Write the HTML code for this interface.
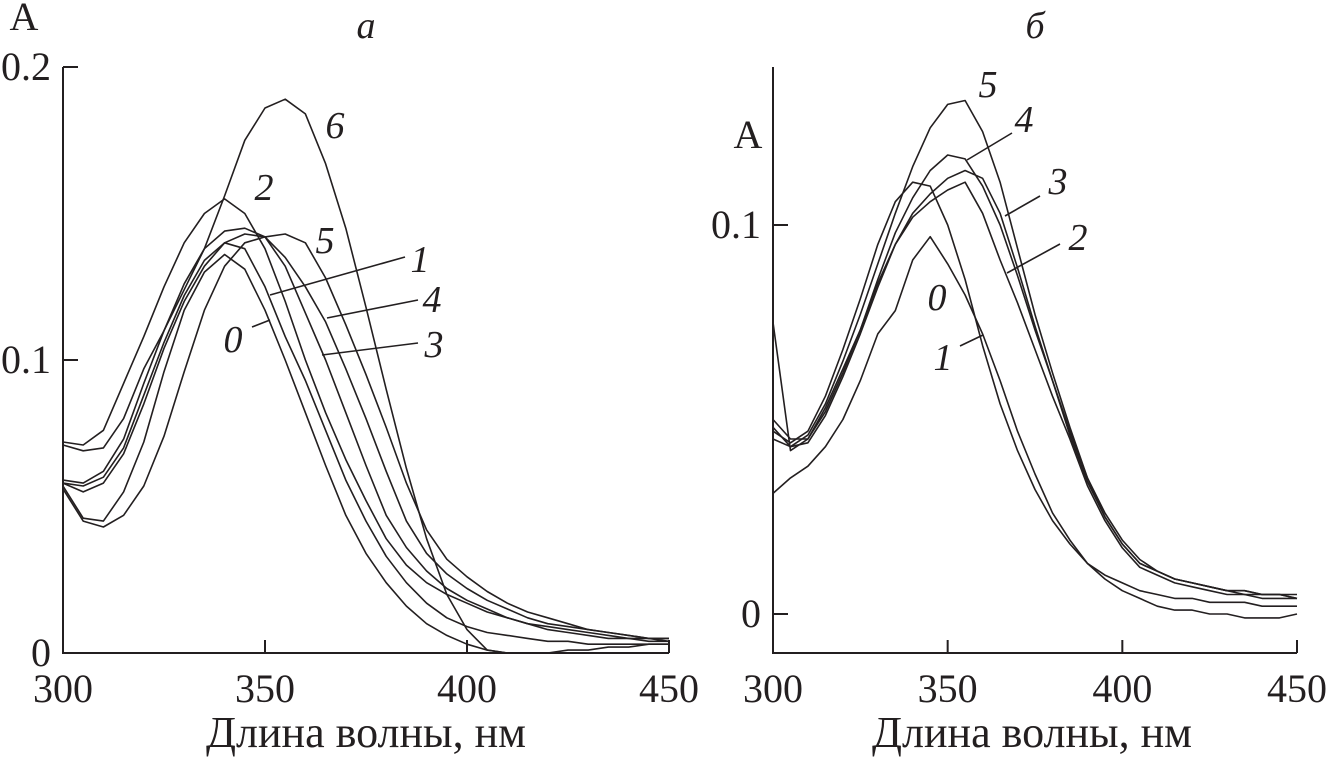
<!DOCTYPE html>
<html><head><meta charset="utf-8"><style>
html,body{margin:0;padding:0;background:#fff;}
svg{display:block;font-family:"Liberation Serif",serif;}
.t{font-size:40px;fill:#231f20;}
.x{font-size:44px;fill:#231f20;}
.i{font-size:38px;font-style:italic;fill:#231f20;}
</style></head><body>
<svg id="c" width="1327" height="757" viewBox="0 0 1327 757"></svg>
<script>
const wavelengths=[300,305,310,315,320,325,330,335,340,345,350,355,360,365,370,375,380,385,390,395,400,405,410,415,420,425,430,435,440,445,450];
const a0=[0.057,0.046,0.045,0.055,0.072,0.096,0.117,0.130,0.136,0.131,0.117,0.100,0.082,0.064,0.047,0.034,0.024,0.016,0.010,0.006,0.003,0.001,0.0,0.0,0.0,0.001,0.001,0.002,0.002,0.003,0.003];
const a1=[0.058,0.057,0.060,0.070,0.088,0.106,0.122,0.134,0.140,0.138,0.125,0.108,0.093,0.076,0.059,0.045,0.033,0.024,0.017,0.012,0.009,0.007,0.006,0.005,0.004,0.004,0.003,0.003,0.003,0.003,0.003];
const a2=[0.072,0.071,0.076,0.092,0.108,0.125,0.140,0.150,0.155,0.150,0.138,0.120,0.100,0.082,0.066,0.052,0.039,0.030,0.024,0.020,0.017,0.014,0.012,0.010,0.008,0.007,0.006,0.005,0.005,0.004,0.004];
const a3=[0.058,0.055,0.058,0.068,0.085,0.104,0.120,0.132,0.140,0.143,0.142,0.132,0.116,0.100,0.082,0.064,0.047,0.036,0.028,0.022,0.018,0.015,0.012,0.010,0.009,0.008,0.007,0.006,0.005,0.005,0.004];
const a4=[0.059,0.058,0.062,0.073,0.092,0.110,0.126,0.138,0.144,0.145,0.142,0.135,0.125,0.113,0.097,0.080,0.062,0.045,0.034,0.027,0.022,0.018,0.015,0.012,0.010,0.009,0.008,0.007,0.006,0.005,0.005];
const a5=[0.056,0.045,0.043,0.047,0.057,0.074,0.096,0.117,0.132,0.140,0.142,0.143,0.140,0.128,0.112,0.095,0.077,0.058,0.042,0.032,0.026,0.021,0.017,0.014,0.012,0.010,0.008,0.007,0.006,0.005,0.005];
const a6=[0.071,0.069,0.070,0.080,0.097,0.110,0.124,0.138,0.156,0.175,0.186,0.189,0.184,0.167,0.145,0.118,0.090,0.063,0.039,0.020,0.008,0.001,0,0,0,0,0,0,0,0,0];
const b0=[0.047,0.044,0.047,0.056,0.068,0.081,0.095,0.106,0.111,0.110,0.100,0.086,0.069,0.054,0.042,0.032,0.024,0.018,0.013,0.010,0.008,0.006,0.005,0.004,0.004,0.003,0.003,0.003,0.002,0.002,0.002];
const b1=[0.031,0.035,0.038,0.043,0.050,0.060,0.072,0.078,0.091,0.097,0.090,0.082,0.072,0.060,0.047,0.036,0.026,0.019,0.013,0.009,0.006,0.004,0.002,0.001,0.001,0.0,0.0,-0.001,-0.001,-0.001,0.0];
const b2=[0.075,0.042,0.045,0.053,0.063,0.073,0.085,0.095,0.102,0.106,0.109,0.111,0.103,0.091,0.080,0.068,0.056,0.045,0.033,0.024,0.017,0.012,0.010,0.008,0.007,0.006,0.005,0.005,0.004,0.004,0.004];
const b3=[0.048,0.043,0.044,0.051,0.061,0.072,0.084,0.095,0.103,0.108,0.112,0.114,0.112,0.103,0.089,0.074,0.060,0.046,0.034,0.025,0.018,0.013,0.011,0.009,0.008,0.007,0.006,0.005,0.005,0.005,0.004];
const b4=[0.050,0.045,0.045,0.052,0.062,0.073,0.086,0.098,0.107,0.114,0.118,0.117,0.110,0.100,0.087,0.073,0.060,0.047,0.035,0.026,0.019,0.014,0.011,0.009,0.008,0.007,0.006,0.006,0.005,0.005,0.004];
const b5=[0.045,0.043,0.046,0.054,0.065,0.077,0.090,0.103,0.115,0.125,0.131,0.132,0.124,0.111,0.094,0.077,0.062,0.048,0.035,0.025,0.018,0.013,0.011,0.009,0.008,0.007,0.006,0.006,0.005,0.005,0.005];
const xTicks=[300,350,400,450];
const aYTicks=[0,0.1,0.2];
const aYLabels=["0","0.1","0.2"];
const bYTicks=[0,0.1];
const bYLabels=["0","0.1"];

const NS="http://www.w3.org/2000/svg";
const svg=document.getElementById('c');
function mk(tag,attrs,parent){const e=document.createElementNS(NS,tag);for(const k in attrs)e.setAttribute(k,attrs[k]);(parent||svg).appendChild(e);return e;}
function txt(s,x,y,cls,anchor,parent){const e=mk('text',{x:x,y:y,class:cls,'text-anchor':anchor||'middle'},parent);e.textContent=s;return e;}

const panels=[
 {id:'a',x0:63,x1:669,yZero:653,yPer:2930,axTop:67,series:[a0,a1,a2,a3,a4,a5,a6],yt:aYTicks,yl:aYLabels},
 {id:'b',x0:773,x1:1297,yZero:614,yPer:3890,axTop:67,series:[b0,b1,b2,b3,b4,b5],yt:bYTicks,yl:bYLabels}
];
panels.forEach(p=>{
 const g=mk('g',{});
 
 
 const X=l=>p.x0+(l-300)*(p.x1-p.x0)/150;
 const Y=v=>p.yZero-v*p.yPer;
 const ax=mk('path',{d:`M${p.x0},${p.axTop}V653H${p.x1}`,fill:'none',stroke:'#231f20','stroke-width':2},g);
 
 
 xTicks.forEach(t=>{
  if(t>300){const tk=mk('line',{x1:X(t),x2:X(t),y1:653,y2:640,stroke:'#231f20','stroke-width':2},g);
   
   }
  const tl=txt(String(t),X(t),702,'t','middle',g);
  
  
 });
 p.yt.forEach((t,i)=>{
  if(Y(t)<650){const tk=mk('line',{x1:p.x0,x2:p.x0+15,y1:Y(t),y2:Y(t),stroke:'#231f20','stroke-width':2},g);
   
   }
  const tl=txt(p.yl[i],p.x0-12,Y(t)+13,'t','end',g);
  
  
 });
 p.series.forEach((s,k)=>{
  const d=s.map((v,i)=>(i?'L':'M')+X(wavelengths[i]).toFixed(1)+','+Y(v).toFixed(1)).join('');
  const ln=mk('path',{d:d,fill:'none',stroke:'#231f20','stroke-width':1.6,'stroke-linejoin':'round'},g);
  
  
 });
 const xt=txt('Длина волны, нм',(p.x0+p.x1)/2+(p.id==='a'?0:-3),747,'x','middle',g);
 
 
});
function lbl(s,x,y,name){const e=txt(s,x,y,'i','middle');}
function lead(x1,y1,x2,y2){const e=mk('line',{x1:x1,y1:y1,x2:x2,y2:y2,stroke:'#231f20','stroke-width':1.6});}
const ya=txt('A',24,30,'t','middle');
const yb=txt('A',748,148,'t','middle');
lbl('a',366,38,'panel-title-a');lbl('б',1035,38,'panel-title-b');
lbl('6',335,138,'label-a-6');lbl('2',264,200,'label-a-2');lbl('5',325,253,'label-a-5');
lbl('1',420,272,'label-a-1');lbl('4',432,312,'label-a-4');lbl('3',434,357,'label-a-3');lbl('0',233,352,'label-a-0');
lead(270,295,405,257);lead(327,318,418,300);lead(322,355,418,343);lead(252,327,270,320);
lbl('5',988,97,'label-b-5');lbl('4',1024,132,'label-b-4');lbl('3',1058,194,'label-b-3');lbl('2',1078,250,'label-b-2');
lbl('0',937,310,'label-b-0');lbl('1',943,370,'label-b-1');
lead(967,160,1012,133);lead(1005,216,1040,196);lead(1007,273,1060,244);lead(983,335,960,346);
</script>
</body></html>
